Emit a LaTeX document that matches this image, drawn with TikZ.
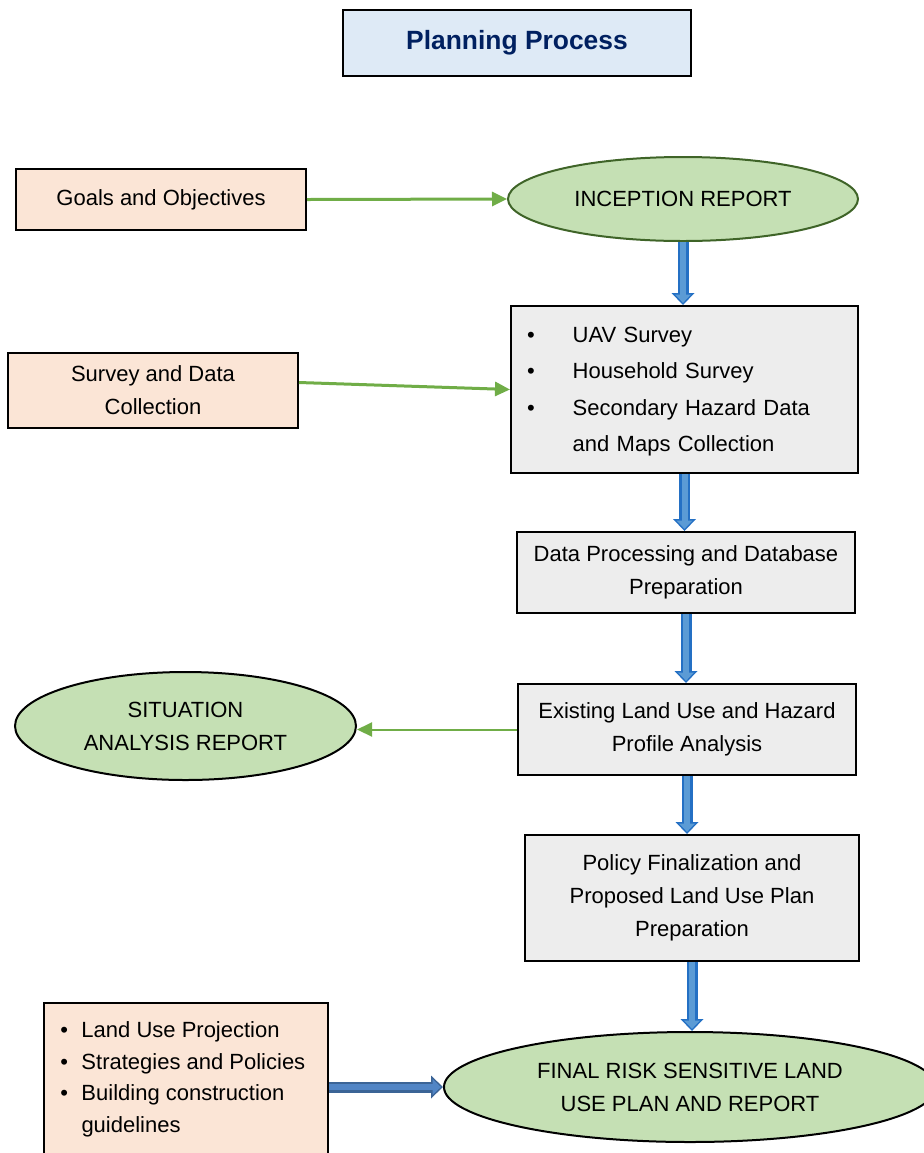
\documentclass[tikz,border=0pt]{standalone}
\usepackage{fontspec}
\setmainfont{Liberation Sans}
\usepackage{tikz}
\usetikzlibrary{arrows.meta,shapes.geometric}

\definecolor{titleblue}{HTML}{DEEAF6}
\definecolor{titletext}{HTML}{002060}
\definecolor{peach}{HTML}{FBE5D6}
\definecolor{leaf}{HTML}{C5E0B4}
\definecolor{leafedge}{HTML}{3F6428}
\definecolor{boxgrey}{HTML}{EDEDED}
\definecolor{arrowgreen}{HTML}{70AD47}
\definecolor{flowfill}{HTML}{5B9BD5}
\definecolor{flowedge}{HTML}{2470C4}
\definecolor{pushfill}{HTML}{5185C5}
\definecolor{pushedge}{HTML}{3B6496}

\begin{document}
\begin{tikzpicture}[
  x=0.5pt, y=-0.5pt,
  font=\fontsize{11}{16.5}\selectfont,
  every node/.style={align=center},
  inputbox/.style={draw=black, line width=1pt, fill=peach},
  stage/.style={draw=black, line width=1pt, fill=boxgrey},
  report/.style={ellipse, draw=black, line width=1pt, fill=leaf, inner sep=0pt},
  feed/.style={draw=arrowgreen, line width=1.5pt,
               -{Triangle[length=7.5pt,width=7pt]}},
  blockarrow/.style 2 args={draw=#1, line width=5.5pt,
               -{Triangle[length=6pt,width=11.5pt,line width=0pt]},
               postaction={draw=#2, line width=3pt, shorten >=1.1pt,
               -{Triangle[length=4.15pt,width=8pt,line width=0pt]}}},
]

\clip (0,0) rectangle (924,1153);

\node[draw=black, line width=1.3pt, fill=titleblue,
      minimum width=174pt, minimum height=33pt,
      font=\fontsize{13.2}{16}\selectfont\bfseries, text=titletext]
  (title) at (517,43) {Planning Process};

\node[inputbox, minimum width=145pt, minimum height=30.5pt]
  (goals) at (161,199.5) {Goals and Objectives};
\node[report, draw=leafedge, minimum width=175pt, minimum height=42pt]
  (inception) at (683,199) {INCEPTION REPORT};

\node[inputbox, minimum width=145pt, minimum height=37.5pt]
  (survey) at (153,390.5) {Survey and Data\\Collection};
\node[stage, minimum height=83.5pt, text width=157.5pt, inner xsep=8pt,
      align=left, font=\fontsize{11}{18.25}\selectfont]
  (uav) at (684.5,389.5)
  {\begin{tabular}{@{}l@{\hspace{19pt}}l@{}}
   \textbullet & UAV Survey\\
   \textbullet & Household Survey\\
   \textbullet & Secondary Hazard Data\\
               & and Maps Collection
   \end{tabular}};

\node[stage, minimum width=169pt, minimum height=40.5pt]
  (dataproc) at (686,572.5) {Data Processing and Database\\Preparation};
\node[stage, minimum width=169pt, minimum height=45.5pt]
  (existing) at (687,729.5) {Existing Land Use and Hazard\\Profile Analysis};
\node[report, minimum width=170.5pt, minimum height=54pt]
  (situation) at (185.5,726) {SITUATION\\ANALYSIS REPORT};

\node[stage, minimum width=167pt, minimum height=63pt]
  (policy) at (692,898)
  {Policy Finalization and\\Proposed Land Use Plan\\Preparation};
\node[report, minimum width=246pt, minimum height=55pt]
  (final) at (690,1087) {FINAL RISK SENSITIVE LAND\\USE PLAN AND REPORT};

\node[inputbox, minimum width=142pt, minimum height=110pt, anchor=north west]
  (projbox) at (43,1002) {};
\node[anchor=north west, inner sep=0pt, align=left,
      font=\fontsize{11}{15.8}\selectfont]
  (projtext) at (60,1015)
  {\begin{tabular}{@{}l@{\hspace{6.7pt}}l@{}}
   \textbullet & Land Use Projection\\
   \textbullet & Strategies and Policies\\
   \textbullet & Building construction\\
               & guidelines
   \end{tabular}};

\draw[feed] (goals.east) -- (inception.west);
\draw[feed] ([yshift=4pt]survey.east) -- (uav.west);
\draw[feed, line width=1pt] (existing.west) -- (situation.east |- existing.west);

\draw[blockarrow={flowedge}{flowfill}] (inception.south) -- (inception.south |- uav.north);
\draw[blockarrow={flowedge}{flowfill}] (uav.south) -- (uav.south |- dataproc.north);
\draw[blockarrow={flowedge}{flowfill}] (dataproc.south) -- (dataproc.south |- existing.north);
\draw[blockarrow={flowedge}{flowfill}] (existing.south) -- (existing.south |- policy.north);
\draw[blockarrow={flowedge}{flowfill}] (policy.south) -- (policy.south |- final.north);
\draw[blockarrow={pushedge}{pushfill}] (projbox.east |- final.west) -- (final.west);

\end{tikzpicture}
\end{document}
